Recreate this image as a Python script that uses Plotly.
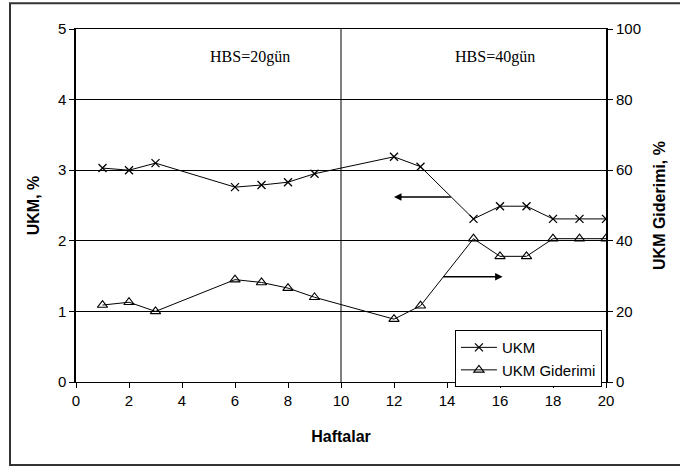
import plotly.graph_objects as go

weeks = [1, 2, 3, 6, 7, 8, 9, 12, 13, 15, 16, 17, 18, 19, 20]
ukm = [3.03, 3.00, 3.10, 2.76, 2.79, 2.83, 2.95, 3.19, 3.05, 2.31, 2.49, 2.49, 2.31, 2.31, 2.31]
giderimi = [21.8, 22.6, 20.0, 29.0, 28.2, 26.6, 24.0, 17.8, 21.6, 40.6, 35.6, 35.6, 40.6, 40.6, 40.6]
x_ticks = [0, 2, 4, 6, 8, 10, 12, 14, 16, 18, 20]
y_ticks = [0, 1, 2, 3, 4, 5]
y2_ticks = [0, 20, 40, 60, 80, 100]

fig = go.Figure()
fig.add_trace(go.Scatter(x=weeks, y=ukm, name="UKM", mode="lines+markers",
                         line=dict(color="black", width=1),
                         marker=dict(symbol="x-thin", size=8, color="black",
                                     line=dict(color="black", width=1.3))))
fig.add_trace(go.Scatter(x=weeks, y=giderimi, name="UKM Giderimi", mode="lines+markers",
                         yaxis="y2",
                         line=dict(color="black", width=1),
                         marker=dict(symbol="triangle-up-open", size=9, color="black",
                                     line=dict(color="black", width=1.1))))

tickfont = dict(family="Liberation Sans, Arial", size=15, color="black")
titlefont = dict(family="Liberation Sans, Arial", size=16, color="black", weight="bold")

fig.update_layout(
    width=680, height=467,
    margin=dict(l=76, r=74, t=29, b=85, autoexpand=False),
    paper_bgcolor="white", plot_bgcolor="white",
    showlegend=True,
    legend=dict(x=0.715, y=0.147, xanchor="left", yanchor="top",
                bordercolor="black", borderwidth=1, bgcolor="white",
                font=dict(family="Liberation Sans, Arial", size=15, color="black"),
                tracegroupgap=0, itemwidth=36),
    xaxis=dict(range=[0, 20], tickvals=x_ticks, ticks="outside", ticklen=5,
               tickcolor="black", showgrid=False, zeroline=False, automargin=False,
               showline=True, linecolor="black", linewidth=1, mirror=True,
               tickfont=tickfont,
               title=dict(text="Haftalar", font=titlefont, standoff=22)),
    yaxis=dict(range=[0, 5], tickvals=y_ticks, ticks="outside", ticklen=5,
               tickcolor="black", showgrid=True, gridcolor="black", gridwidth=0.7,
               zeroline=False, showline=True, linecolor="black", linewidth=1.5,
               tickfont=tickfont, automargin=False,
               title=dict(text="UKM, %", font=titlefont, standoff=14)),
    yaxis2=dict(range=[0, 100], tickvals=y2_ticks, ticks="outside", ticklen=5,
                tickcolor="black", overlaying="y", side="right", showgrid=False,
                zeroline=False, showline=True, linecolor="black", linewidth=2,
                tickfont=tickfont, automargin=False,
                title=dict(text="UKM Giderimi, %", font=titlefont, standoff=14)),
)

# divider at week 10
fig.add_shape(type="line", x0=10, x1=10, y0=0, y1=5, xref="x", yref="y",
              line=dict(color="black", width=1))

# outer frame
fig.add_shape(type="rect", xref="paper", yref="paper",
              x0=-0.1245, x1=1.145, y0=-0.235, y1=1.073,
              line=dict(color="#333333", width=2))

serif = dict(family="Liberation Serif, Times New Roman", size=16, color="black")
fig.add_annotation(x=6.57, y=4.6, text="HBS=20gün", showarrow=False, font=serif,
                   xref="x", yref="y")
fig.add_annotation(x=15.8, y=4.6, text="HBS=40gün", showarrow=False, font=serif,
                   xref="x", yref="y")

# arrows
fig.add_annotation(x=12.0, y=2.62, ax=14.2, ay=2.62, xref="x", yref="y",
                   axref="x", ayref="y", text="", showarrow=True,
                   arrowhead=2, arrowsize=1, arrowwidth=1.5, arrowcolor="black")
fig.add_annotation(x=16.1, y=1.49, ax=13.8, ay=1.49, xref="x", yref="y",
                   axref="x", ayref="y", text="", showarrow=True,
                   arrowhead=2, arrowsize=1, arrowwidth=1.5, arrowcolor="black")

fig.write_html("out.html", config={"displayModeBar": False},
               post_script="document.body.style.margin='0';")
